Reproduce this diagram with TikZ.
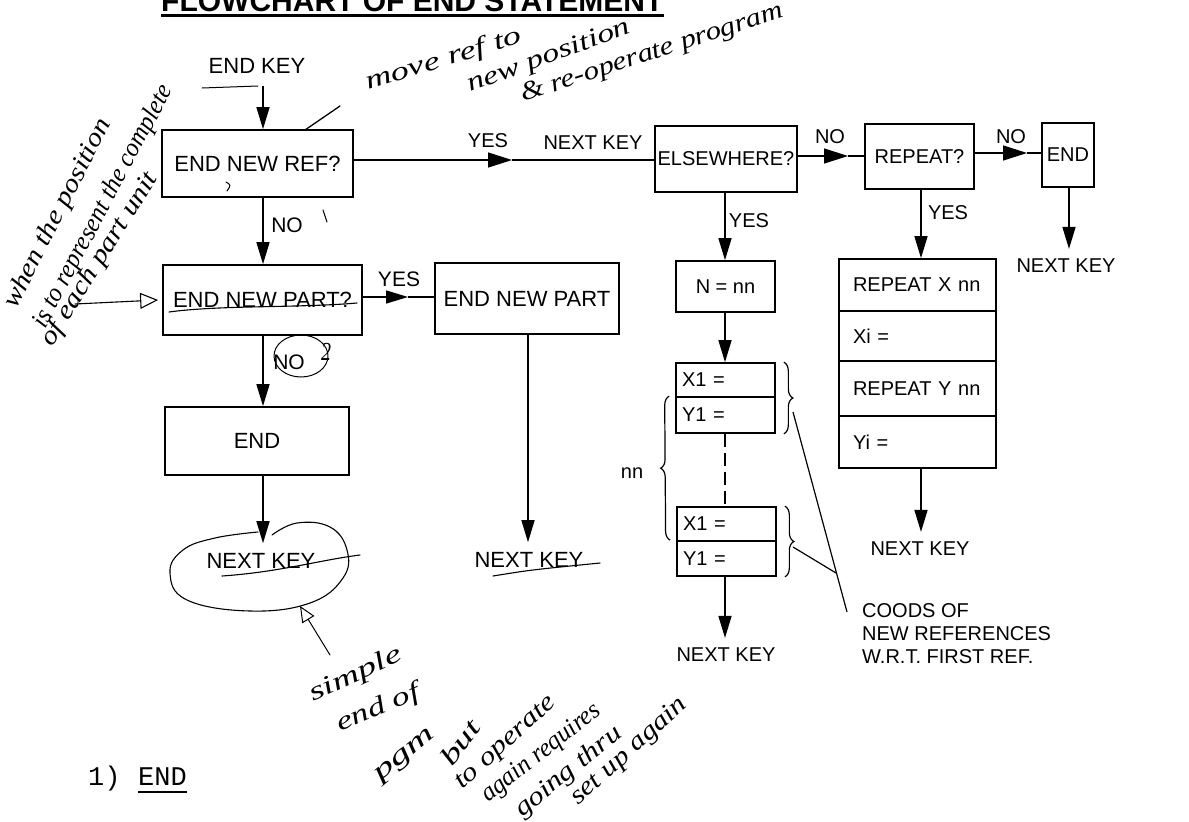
\documentclass[tikz,border=0pt]{standalone}
\usepackage{fontspec}
\setmainfont{Liberation Sans}
\newfontfamily\handfont{Liberation Serif}
\newfontfamily\typefont{Liberation Mono}
\usetikzlibrary{arrows.meta,decorations.pathreplacing,calc}

% handwritten note, stretched sideways to a given length
\newsavebox{\hwbox}
\newlength{\hwht}
\newcommand{\hw}[2]{%
  \sbox{\hwbox}{\handfont\itshape\fontsize{26}{26}\selectfont #2}%
  \setlength{\hwht}{\ht\hwbox}%
  \resizebox{#1pt}{\hwht}{\usebox{\hwbox}}}

\begin{document}
\begin{tikzpicture}[x=1pt,y=-1pt,
  every node/.style={inner sep=0pt},
  txt/.style={font=\fontsize{20}{23}\selectfont},
  txtL/.style={font=\fontsize{22}{25}\selectfont},
  box/.style={draw, line width=1.7pt},
  cell/.style={txt, draw, line width=1.7pt, align=left},
  lbl/.style={txt},
  lblL/.style={font=\fontsize{21}{24}\selectfont},
  nk/.style={txt, inner ysep=10pt},
  flow/.style={line width=1.5pt},
  flowarrow/.style={flow, -{Triangle[length=22pt,width=13pt]}},
  midarrow/.style={flow, -{Triangle[length=24pt,width=15pt]}},
  pen/.style={line width=1.3pt, line cap=round, line join=round},
  hand/.style={inner sep=0pt, anchor=base west},
]
\useasboundingbox (0,0) rectangle (1189,822);

% title
\node[anchor=base west, font=\fontsize{30}{36}\selectfont\bfseries] (title) at (161,11) {FLOWCHART OF END STATEMENT};
\draw[line width=3pt] ([yshift=-4pt]title.base west) -- ([yshift=-4pt]title.base east);

% column lines
\coordinate (cA) at (263,0);
\coordinate (cB) at (528,0);
\coordinate (cC) at (725,0);
\coordinate (cD) at (921,0);
\coordinate (cE) at (1069,0);

% left and middle boxes
\node[txtL, inner ysep=12pt] (endkey) at (257,66) {END KEY};
\node[box, txtL, minimum width=191pt, minimum height=67pt] (enref) at (257.5,163.5) {END NEW REF?};
\node[box, txtL, minimum width=199pt, minimum height=70pt] (enpq) at (262.5,300) {END NEW PART?};
\node[box, txtL, minimum width=184pt, minimum height=71pt] (enp) at (527,298.5) {END NEW PART};
\node[box, txtL, minimum width=184pt, minimum height=68pt] (endB) at (257,441) {END};
\node[nk, txtL] (nkB) at (261,561) {NEXT KEY};
\node[nk, txtL] (nkC) at (529,560) {NEXT KEY};

% right boxes
\node[box, txt, minimum width=142pt, minimum height=66pt] (elsew) at (726,159) {ELSEWHERE?};
\node[box, txt, minimum width=109pt, minimum height=65pt] (rep) at (919.5,156.5) {REPEAT?};
\node[box, txt, minimum width=52pt, minimum height=64pt] (endA) at (1068,155) {END};
\node[nk] (nkA) at (1066,266) {NEXT KEY};

\node[box, txt, minimum width=99pt, minimum height=51pt] (nnn) at (725.5,286.5) {N = nn};
\node[cell, text width=87pt, inner xsep=6pt, minimum height=34pt] (xa) at (725.5,380) {X1 =};
\node[cell, text width=87pt, inner xsep=6pt, minimum height=36pt] (ya) at (725.5,415) {Y1 =};
\node[cell, text width=87pt, inner xsep=6pt, minimum height=34pt] (xb) at (726.5,524) {X1 =};
\node[cell, text width=87pt, inner xsep=6pt, minimum height=35pt] (yb) at (726.5,558.5) {Y1 =};
\node[nk] (nkD) at (726,655) {NEXT KEY};

\node[cell, text width=129pt, inner xsep=14pt, minimum height=52pt] (rx) at (917.5,285) {REPEAT X nn};
\node[cell, text width=129pt, inner xsep=14pt, minimum height=50pt] (rxi) at (917.5,336) {Xi =};
\node[cell, text width=129pt, inner xsep=14pt, minimum height=55pt] (ry) at (917.5,388.5) {REPEAT Y nn};
\node[cell, text width=129pt, inner xsep=14pt, minimum height=52pt] (ryi) at (917.5,442) {Yi =};
\node[nk] (nkE) at (920,549) {NEXT KEY};

% branch labels
\node[lbl] (yes1) at (488,141) {YES};
\node[lbl] (nk0) at (593,143) {NEXT KEY};
\node[lbl] (no1) at (830,137) {NO};
\node[lbl] (no2) at (1011,137) {NO};
\node[lbl] (yes2) at (749,221) {YES};
\node[lbl] (yes3) at (948,213) {YES};
\node[lblL] (no3) at (287,225) {NO};
\node[lblL] (yes4) at (399,279) {YES};
\node[lblL] (no4) at (289,362) {NO};
\node[lbl] (nnlab) at (632,473) {nn};
\node[txt, anchor=north west, align=left] (coods) at (862,603) {COODS OF\\NEW REFERENCES\\W.R.T. FIRST REF.};

% vertical flow
\draw[flowarrow] (endkey.south -| cA) -- (enref.north -| cA);
\draw[flowarrow] (enref.south -| cA) -- (enpq.north -| cA);
\draw[flowarrow] (enpq.south -| cA) -- (endB.north -| cA);
\draw[flowarrow] (endB.south -| cA) -- (nkB.north -| cA);
\draw[flowarrow] (enp.south -| cB) -- (nkC.north -| cB);
\draw[flowarrow] (elsew.south -| cC) -- (nnn.north -| cC);
\draw[flowarrow] (nnn.south -| cC) -- (xa.north -| cC);
\draw[line width=1.3pt, dash pattern=on 13pt off 6pt] (ya.south -| cC) -- (xb.north -| cC);
\draw[flowarrow] (yb.south -| cC) -- (nkD.north -| cC);
\draw[flowarrow] (rep.south -| cD) -- (rx.north -| cD);
\draw[flowarrow] (ryi.south -| cD) -- (nkE.north -| cD);
\draw[flowarrow] (endA.south -| cE) -- (nkA.north -| cE);

% horizontal flow, arrowheads part way along
\coordinate (m1) at (512,160);
\coordinate (m2) at (848,156);
\coordinate (m3) at (1027,153);
\coordinate (m4) at (408,297);
\draw[midarrow] (enref.east |- m1) -- (m1);
\draw[flow] (m1) -- (elsew.west |- m1);
\draw[midarrow] (elsew.east |- m2) -- (m2);
\draw[flow] (m2) -- (rep.west |- m2);
\draw[midarrow] (rep.east |- m3) -- (m3);
\draw[flow] (m3) -- (endA.west |- m3);
\draw[flowarrow] (enpq.east |- m4) -- (m4);
\draw[flow] (m4) -- (enp.west |- m4);

% braces
\draw[line width=1.2pt, decorate, decoration={brace, amplitude=9pt}]
  ([xshift=-6pt]yb.north west) -- ([xshift=-6pt]ya.north west);
\draw[line width=1.2pt, decorate, decoration={brace, amplitude=9pt}]
  ([xshift=8pt]xa.north east) -- ([xshift=8pt]ya.south east);
\draw[line width=1.2pt, decorate, decoration={brace, amplitude=9pt}]
  ([xshift=8pt]xb.north east) -- ([xshift=8pt]yb.south east);
\coordinate (bt1) at (793,412);
\coordinate (bt2) at (793,547);
\coordinate (lj) at (836,573);
\coordinate (lend) at (847,612);
\draw[line width=1.2pt] (bt1) -- (lend);
\draw[line width=1.2pt] (bt2) -- (lj);

% typed footnote
\node[anchor=base west, font=\typefont\fontsize{27}{30}\selectfont] (one) at (88,785) {1)};
\node[anchor=base west, font=\typefont\fontsize{27}{30}\selectfont] (endt) at (138,785) {END};
\draw[line width=2pt] ([yshift=-7pt]endt.base west) -- ([yshift=-7pt]endt.base east);

% pen marks
\draw[pen, line width=1pt] (202,88) -- (258,86);
\draw[pen] (305,130) -- (340,106);
\draw[pen, line width=1pt] (323,210) -- (327,222);
\draw[pen, line width=1pt] (226,182) .. controls (231,185) .. (227,191);
\draw[pen, line width=1.1pt] (169,312) .. controls (220,305) and (300,308) .. (357,303);
\draw[pen, line width=1pt] (301,356) ellipse [x radius=27pt, y radius=21pt];
\node[hand] at (321,360) {\hw{10}{2}};
\draw[pen, line width=1.1pt] plot[smooth, tension=0.7] coordinates {(258,532) (215,538) (183,550) (170,573) (187,600) (250,611) (310,603) (343,578) (347,550) (330,527) (297,523) (272,535)};
\draw[pen, line width=1.1pt] (222,576) .. controls (280,572) and (320,560) .. (360,555);
\draw[pen, line width=1.1pt] (493,576) .. controls (530,570) .. (600,563);
\coordinate (noteA) at (330,655);
\draw[pen, line width=1pt, -{Triangle[open, length=16pt, width=14pt]}] (noteA) -- (300,606);
\coordinate (noteB) at (75,304);
\draw[pen, line width=1.1pt, -{Triangle[open, length=18pt, width=16pt]}] (noteB) -- ([xshift=-4pt]enpq.west);

% handwritten notes
\node[hand, rotate=17] at (368,90) {\hw{162}{move ref to}};
\node[hand, rotate=20] at (470,92) {\hw{172}{new position}};
\node[hand, rotate=18] at (523,102) {\hw{275}{\& re-operate program}};
\node[hand, rotate=63] at (16,310) {\hw{209}{when the position}};
\node[hand, rotate=62] at (45,330) {\hw{272}{is to represent the complete}};
\node[hand, rotate=58] at (52,348) {\hw{200}{of each part unit}};
\node[hand, rotate=25] at (313,702) {\hw{100}{simple}};
\node[hand, rotate=23] at (340,732) {\hw{88}{end of}};
\node[hand, rotate=40] at (380,782) {\hw{72}{pgm}};
\node[hand, rotate=53] at (452,768) {\hw{50}{but}};
\node[hand, rotate=42] at (462,790) {\hw{128}{to operate}};
\node[hand, rotate=38] at (488,803) {\hw{145}{again requires}};
\node[hand, rotate=39] at (522,818) {\hw{130}{going thru}};
\node[hand, rotate=42] at (578,806) {\hw{148}{set up again}};
\end{tikzpicture}
\end{document}
